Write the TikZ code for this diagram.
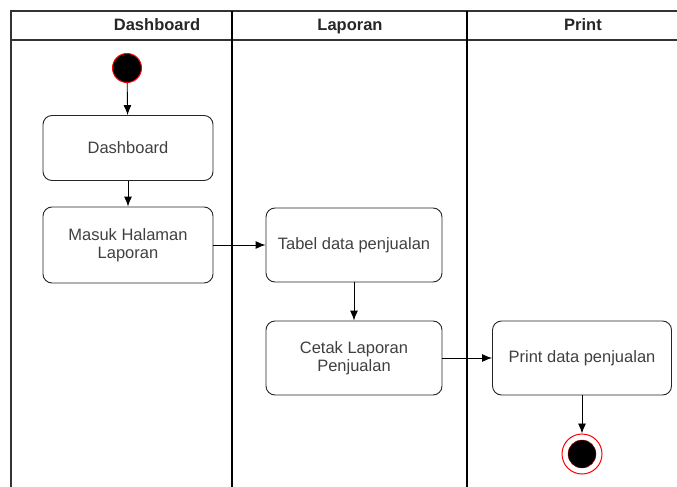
\documentclass[tikz,border=0pt]{standalone}
\usepackage{fontspec}
\setmainfont{Liberation Sans}
\usetikzlibrary{arrows.meta}
\begin{document}
\begin{tikzpicture}[x=1pt, y=-1pt,
                        lane/.style={line width=1.2pt, draw=black!80},
                        divider/.style={line width=2pt, draw=black},
                        head/.style={font=\fontsize{16.5}{19}\selectfont\bfseries, text=black!85},
                        act/.style={draw=black!85, line width=0.9pt, rounded corners=9pt, align=center, text=black!75, font=\fontsize{16.5}{18}\selectfont},
                        flow/.style={-{Latex[length=10pt, width=8pt]}, line width=0.9pt}]
                        \useasboundingbox (0, 0) rectangle (677, 487);
                        \draw[lane] (11, 487) -- (11, 11) -- (677, 11);
                        \draw[lane] (11, 40) -- (677, 40);
                        \draw[divider] (232, 11) -- (232, 487);
                        \draw[divider] (467, 11) -- (467, 487);
                        \node[head, anchor=base] (hdash) at (157, 31){Dashboard};
                        \node[head, anchor=base] (hlap) at (350, 31){Laporan};
                        \node[head, anchor=base] (hprint) at (583, 31){Print};
                        \node[circle, fill=black, draw=red, line width=1pt, minimum size=29pt, inner sep=0pt] (start) at (127, 68){};
                        \node[act, minimum width=170pt, minimum height=65pt] (dash) at (128, 148){Dashboard};
                        \node[act, minimum width=170pt, minimum height=76pt] (masuk) at (128, 245){Masuk Halaman\\Laporan};
                        \node[act, minimum width=176pt, minimum height=74pt] (tabel) at (354, 245){Tabel data penjualan};
                        \node[act, minimum width=176pt, minimum height=74pt] (cetak) at (354, 358){Cetak Laporan\\Penjualan};
                        \node[act, minimum width=179pt, minimum height=74pt] (print) at (582, 358){Print data penjualan};
                        \node[circle, draw=red, line width=1pt, fill=white, minimum size=40pt, inner sep=0pt] (end) at (582, 454){};
                        \filldraw[fill=black, draw=red!70!black] (end.center) circle (14pt);
                        \draw[flow] (start) -- (dash);
                        \draw[flow] (dash) -- (masuk);
                        \draw[flow] (masuk) -- (tabel);
                        \draw[flow] (tabel) -- (cetak);
                        \draw[flow] (cetak) -- (print);
                        \draw[flow] (print) -- (end);
                \end{tikzpicture}
\end{document}
